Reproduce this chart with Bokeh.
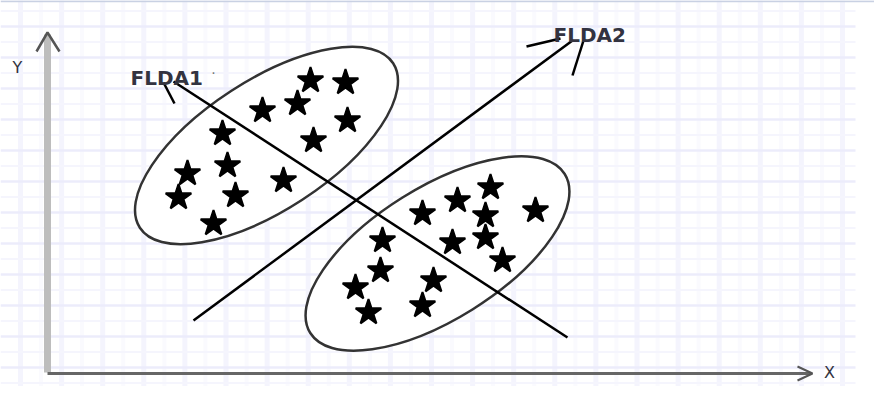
import numpy as np
from bokeh.plotting import figure
from bokeh.models import Range1d
from bokeh.core.properties import value
from bokeh.embed import file_html
from bokeh.resources import INLINE

# ---- data (image-pixel coordinates, y grows downward) ----
cluster1_x = [310, 345, 262, 297, 347, 313, 222, 227, 187, 283, 178, 235, 213]
cluster1_y = [80, 82, 110, 103, 120, 140, 133, 165, 173, 180, 197, 195, 223]
cluster2_x = [490, 457, 422, 485, 535, 382, 452, 485, 502, 380, 433, 355, 368, 422]
cluster2_y = [187, 200, 213, 215, 210, 240, 242, 237, 260, 270, 280, 287, 312, 305]

ellipse_cx = [266, 437]
ellipse_cy = [145, 253]
ellipse_w = [302, 300]
ellipse_h = [130, 132]
ellipse_angle_deg = [33, 32]

flda1_line = dict(x0=173, y0=81, x1=567, y1=337)
flda2_line = dict(x0=193, y0=320, x1=572, y1=40)

labels = ["FLDA1", "FLDA2"]
label_x = [130, 553]
label_y = [77, 34]

axis_labels = ["Y", "X"]
axis_label_x = [17, 829]
axis_label_y = [67, 372]

# ---- figure ----
p = figure(width=874, height=386, x_range=Range1d(0, 874), y_range=Range1d(386, 0),
           min_border=0, toolbar_location=None, output_backend="svg",
           x_axis_location=None, y_axis_location=None,
           outline_line_color=None, background_fill_color="white",
           border_fill_color="white")
p.grid.visible = False

# graph-paper grid (decoration)
vx = 20 + 20.55 * np.arange(0, 41)
hy = 10.5 + 15.5 * np.arange(0, 26)
strong_v = vx[0::2]
weak_v = vx[1::2]
strong_h = hy[1::2]
weak_h = hy[0::2]
p.segment(x0=weak_v, y0=0, x1=weak_v, y1=402, line_color="#fafafe", line_width=4)
p.segment(x0=strong_v, y0=0, x1=strong_v, y1=402, line_color="#f4f4fd", line_width=5)
p.segment(x0=0, y0=weak_h, x1=855, y1=weak_h, line_color="#f5f5fd", line_width=2)
p.segment(x0=0, y0=strong_h, x1=855, y1=strong_h, line_color="#ececfb", line_width=2.5)
# thin frame line along the top edge
p.segment(x0=[0], y0=[0.8], x1=[874], y1=[0.8], line_color="#c9d1e3", line_width=2)

# axes arrows
p.segment(x0=[47], y0=[34], x1=[47], y1=[372], line_color="#bdbdbd", line_width=7)
p.multi_line(xs=[[36, 47, 59]], ys=[[51, 32, 51]], line_color="#555555", line_width=2.5)
p.segment(x0=[47], y0=[373], x1=[811], y1=[373], line_color="#666666", line_width=3)
p.multi_line(xs=[[797, 812, 797]], ys=[[366, 373, 380]], line_color="#555555", line_width=2)

# ellipses
p.ellipse(x=ellipse_cx, y=ellipse_cy, width=ellipse_w, height=ellipse_h,
          angle=ellipse_angle_deg, angle_units="deg",
          fill_color="white", line_color="#333333", line_width=2.5)

# stars
p.scatter(x=cluster1_x, y=cluster1_y, marker="star", size=27, color="black", line_width=2)
p.scatter(x=cluster2_x, y=cluster2_y, marker="star", size=27, color="black", line_width=2)

# discriminant directions
p.segment(x0=[flda1_line["x0"]], y0=[flda1_line["y0"]], x1=[flda1_line["x1"]], y1=[flda1_line["y1"]],
          line_color="black", line_width=2.5)
p.segment(x0=[flda2_line["x0"]], y0=[flda2_line["y0"]], x1=[flda2_line["x1"]], y1=[flda2_line["y1"]],
          line_color="black", line_width=2.5)
# arrow head of FLDA2 and pointer mark near FLDA1
p.multi_line(xs=[[526, 560], [583, 572], [163, 174]], ys=[[46, 38], [40, 75], [82, 103]],
             line_color="black", line_width=2.5)

# labels
p.text(x=label_x, y=label_y, text=labels, text_font=value("DejaVu Sans"),
       text_font_size="20px", text_font_style="bold", text_color="#333340",
       text_baseline="alphabetic", text_align="left")
p.text(x=[213], y=[72], text=["·"], text_font=value("DejaVu Sans"),
       text_font_size="14px", text_color="#777777", text_baseline="middle", text_align="center")
p.text(x=axis_label_x, y=axis_label_y, text=axis_labels, text_font=value("DejaVu Sans"),
       text_font_size="16px", text_color="#333340",
       text_baseline="middle", text_align="center")

open("out.html", "w").write(file_html(p, INLINE))
